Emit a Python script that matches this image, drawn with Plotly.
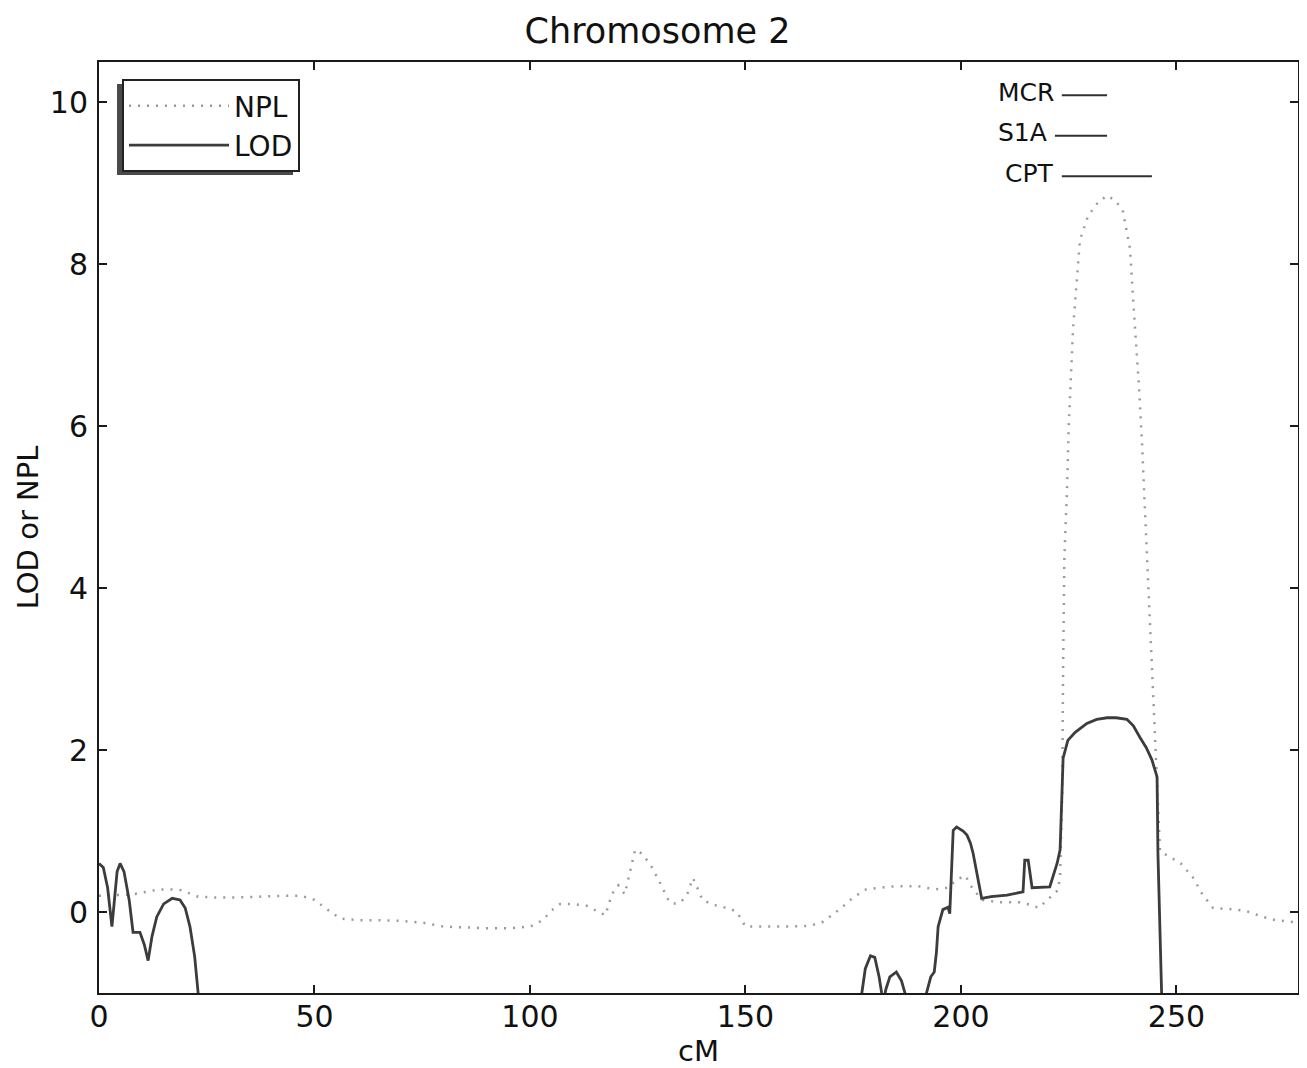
import plotly.graph_objects as go

# ---------------- data ----------------
npl_cm = [0, 2, 5, 8, 11, 14, 17, 19, 21, 23, 27, 32, 37, 42, 47, 50, 53, 56, 60, 65, 70, 75,
          80, 85, 90, 95, 100, 103, 105, 107, 110, 113, 116, 117.5, 119, 120.5, 122, 123, 124.4,
          126, 128, 130, 132, 133, 135, 136.5, 137.8, 139, 140, 142.5, 146.5, 148, 150, 155,
          160, 165, 168, 170, 172, 175, 178, 181, 185, 190, 194, 197, 199, 201, 202.8, 205,
          209, 213.7, 216.7, 218, 220.6, 222.5, 223, 223.5, 223.7, 224, 224.6, 225, 226, 227.6,
          229.5, 232, 234, 236, 237.6, 239.2, 240.4, 241.3, 242, 243, 243.5, 244.5, 245.5,
          246.2, 248.5, 251, 253.8, 256, 258.5, 261, 264, 267, 270, 273, 276, 278]
npl_val = [0.2, 0.21, 0.21, 0.22, 0.25, 0.28, 0.28, 0.27, 0.23, 0.19, 0.18, 0.18, 0.19, 0.2,
           0.2, 0.15, 0.03, -0.08, -0.1, -0.1, -0.11, -0.13, -0.18, -0.19, -0.2, -0.2, -0.18,
           -0.1, 0.02, 0.1, 0.1, 0.08, 0.0, -0.04, 0.22, 0.33, 0.22, 0.45, 0.77, 0.72, 0.58,
           0.38, 0.16, 0.1, 0.12, 0.22, 0.42, 0.28, 0.15, 0.09, 0.04, 0.0, -0.18, -0.18, -0.18,
           -0.17, -0.12, -0.04, 0.04, 0.18, 0.28, 0.3, 0.32, 0.32, 0.28, 0.3, 0.4, 0.45, 0.28,
           0.15, 0.12, 0.12, 0.08, 0.05, 0.17, 0.27, 0.45, 1.5, 3.0, 4.4, 5.2, 6.0, 7.2, 8.3,
           8.6, 8.78, 8.85, 8.78, 8.65, 8.2, 7.2, 6.5, 5.8, 4.6, 4.1, 2.8, 1.5, 0.75, 0.68, 0.6,
           0.43, 0.22, 0.05, 0.04, 0.03, 0.0, -0.06, -0.1, -0.12, -0.13]

lod_cm = [0, 1, 2, 2.6, 3, 3.5, 4.2, 4.9, 5.8, 7, 7.9, 9.5, 10.5, 11.4, 12.3, 13.4, 15, 17,
          18.8, 20, 21.1, 22.2, 23, 23.6, None,
          176.5, 177, 177.8, 179, 180, 181, 181.6, 182, 182.6, 183.5, 185, 186.2, 187, 187.5, None,
          191.5, 192, 193, 193.8, 194.3, 194.7, 195.8, 197, 197.4, 197.8, 198.2, 199, 200.5,
          201.4, 202.2, 202.8, 203.5, 204, 204.8, 207, 210.7, 214.4, 214.8, 215.6, 216.2,
          216.5, 220.6, 222.3, 223, 223.3, 223.7, 224.8, 226.5, 229.2, 231.5, 233.9, 236,
          238.5, 240, 241.5, 243, 244.3, 245.5, 245.7, 246.1, 246.6, 246.8]
lod_val = [0.6, 0.55, 0.3, 0.0, -0.18, 0.1, 0.5, 0.6, 0.5, 0.15, -0.25, -0.25, -0.4, -0.6,
           -0.3, -0.06, 0.1, 0.17, 0.15, 0.05, -0.18, -0.55, -1.0, -1.5, None,
           -1.5, -1.0, -0.7, -0.54, -0.56, -0.8, -1.0, -1.1, -0.95, -0.8, -0.74, -0.85, -1.0, -1.3, None,
           -1.3, -1.0, -0.8, -0.74, -0.5, -0.18, 0.03, 0.06, -0.02, 0.5, 1.01, 1.05, 1.0, 0.95,
           0.85, 0.73, 0.55, 0.39, 0.17, 0.19, 0.21, 0.25, 0.64, 0.64, 0.4, 0.3, 0.31, 0.6,
           0.77, 1.2, 1.9, 2.12, 2.22, 2.33, 2.38, 2.4, 2.4, 2.38, 2.3, 2.16, 2.03, 1.88, 1.67,
           0.73, 0.0, -1.0, -1.5]

# marker intervals (name, start cM, end cM, level)
marker_names = ["MCR", "S1A", "CPT"]
marker_start = [223.4, 221.8, 223.4]
marker_end = [233.9, 233.9, 244.3]
marker_level = [10.09, 9.59, 9.09]

x_ticks = [0, 50, 100, 150, 200, 250]
y_ticks = [0, 2, 4, 6, 8, 10]

FONT = "DejaVu Sans"

# page has an 8px body margin: figure is sized so that it fits the 1307x1068 window
W, H = 1299, 1060
OFF = 8
PL, PR, PT, PB = 99, 1298, 62, 993   # plot area in window pixels


def px_x(px):
    return (px - PL) / (PR - PL)


def px_y(py):
    return (PB - py) / (PB - PT)


fig = go.Figure()
fig.add_trace(go.Scatter(x=npl_cm, y=npl_val, mode="lines", name="NPL",
                         line=dict(color="#9a9a9a", width=2.5, dash="2px,7px")))
fig.add_trace(go.Scatter(x=lod_cm, y=lod_val, mode="lines", name="LOD",
                         line=dict(color="#3c3c3c", width=2.8), connectgaps=False))

for nm, s, e, lv in zip(marker_names, marker_start, marker_end, marker_level):
    fig.add_trace(go.Scatter(x=[s, e], y=[lv, lv], mode="lines", showlegend=False,
                             line=dict(color="#303030", width=2), hoverinfo="skip"))
    fig.add_annotation(x=s, y=lv, xref="x", yref="y", text=nm, showarrow=False,
                       xanchor="right", yanchor="middle", xshift=-6, yshift=3,
                       font=dict(family=FONT, size=25, color="#111"))

# legend shadow (offset down-left of the legend box)
fig.add_shape(type="rect", xref="paper", yref="paper",
              x0=px_x(117), x1=px_x(293), y0=px_y(175), y1=px_y(84),
              fillcolor="#4a4a4a", line=dict(width=0), layer="above")

axis_common = dict(showline=True, linecolor="#1a1a1a", linewidth=2, mirror="ticks",
                   ticks="inside", ticklen=8, tickwidth=1.5, tickcolor="#1a1a1a",
                   showgrid=False, zeroline=False, automargin=False,
                   tickfont=dict(family=FONT, size=30, color="#111"))

fig.update_layout(
    width=W, height=H,
    margin=dict(l=PL - OFF, r=W - (PR - OFF), t=PT - OFF, b=H - (PB - OFF)),
    paper_bgcolor="white", plot_bgcolor="white",
    title=dict(text="Chromosome 2", x=0.5, xanchor="center", y=1 - 23 / H,
               yanchor="middle", font=dict(family=FONT, size=35, color="#111")),
    xaxis=dict(range=[0, 278.2], tickvals=x_ticks, ticklabelstandoff=-4,
               title=dict(text="cM", font=dict(family=FONT, size=29, color="#111"), standoff=0),
               **axis_common),
    yaxis=dict(range=[-1, 10.5], tickvals=y_ticks, ticklabelstandoff=3,
               title=dict(text="LOD or NPL", font=dict(family=FONT, size=29, color="#111"), standoff=3),
               **axis_common),
    legend=dict(x=px_x(122), y=px_y(79), xanchor="left", yanchor="top",
                bgcolor="white", bordercolor="#222", borderwidth=2,
                itemwidth=100, font=dict(family=FONT, size=28, color="#111"),
                tracegroupgap=0),
    showlegend=True,
)

fig.write_html("out.html")
